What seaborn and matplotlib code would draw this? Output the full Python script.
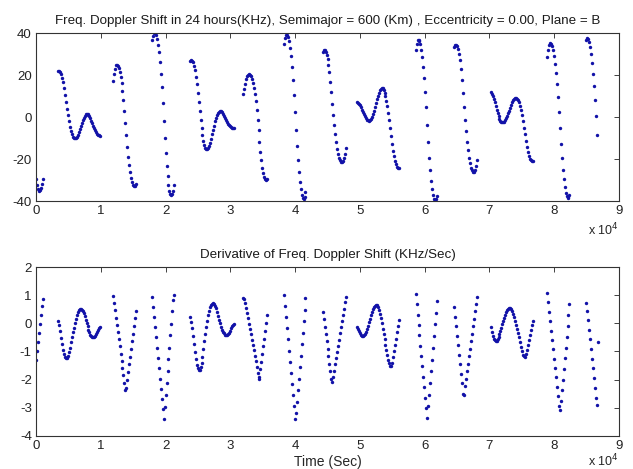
import numpy as np
import pandas as pd
import matplotlib
matplotlib.use("Agg")
import matplotlib.pyplot as plt
import seaborn as sns

# sample step (s) and first sample time of each visible pass
step = 150
pass_start = [0, 3450, 11850, 17900, 23750, 31950, 38300, 44250,
              49600, 58600, 64600, 70200, 78900, 84900]

# Doppler shift per pass (KHz)
doppler_passes = [
    [-29.5, -32.3, -34.2, -35.0, -34.8, -33.8, -32.0, -29.5],
    [22.0, 22.1, 21.6, 20.5, 18.8, 16.5, 13.7, 10.6, 7.3, 4.0, 0.8, -2.1, -4.7, -6.7, -8.3, -9.4, -10.1,
     -10.2, -10.0, -9.4, -8.5, -7.3, -5.9, -4.4, -2.9, -1.5, -0.3, 0.6, 1.2, 1.5, 1.5, 1.1, 0.4,
     -0.6, -1.8, -3.0, -4.2, -5.3, -6.3, -7.2, -7.9, -8.4, -8.8, -9.1],
    [17.3, 20.5, 23.0, 24.6, 25.0, 24.5, 23.4, 21.6, 19.2, 16.1, 12.4, 8.0, 3.0, -2.7, -8.7, -14.1,
     -18.9, -23.0, -26.3, -29.0, -31.0, -32.3, -32.9, -32.8, -32.0],
    [36.7, 38.7, 39.8, 39.9, 39.0, 37.2, 34.5, 30.8, 26.2, 20.7, 14.2, 6.7, -1.7, -10.0, -17.2, -23.3,
     -28.3, -32.2, -35.0, -36.6, -37.2, -36.7, -35.0, -32.6],
    [26.7, 27.0, 26.9, 26.0, 24.5, 22.2, 19.1, 15.5, 11.5, 7.2, 2.8, -1.4, -5.3, -8.7, -11.5, -13.5, -14.8,
     -15.4, -15.4, -14.8, -13.7, -12.2, -10.4, -8.3, -6.2, -4.1, -2.1, -0.4, 1.0, 2.0, 2.6, 2.9, 2.7,
     2.2, 1.5, 0.6, -0.4, -1.4, -2.3, -3.2, -3.9, -4.5, -4.9, -5.2, -5.35, -5.4],
    [10.8, 13.5, 15.9, 17.9, 19.3, 20.1, 20.4, 20.1, 19.3, 18.0, 16.1, 13.7, 10.8, 7.4, 3.4, -1.2, -6.4,
     -11.7, -16.6, -20.7, -24.1, -26.7, -28.6, -29.7, -30.1, -29.7],
    [34.6, 37.5, 38.9, 39.0, 38.0, 36.0, 33.0, 28.9, 23.9, 17.8, 10.7, 2.4, -6.2, -14.0, -20.7, -26.4,
     -31.0, -34.5, -37.0, -38.4, -38.9, -38.0, -35.5],
    [31.0, 31.8, 31.8, 31.1, 29.7, 27.6, 24.8, 21.2, 16.9, 11.9, 6.4, 0.9, -4.0, -8.3, -12.0, -15.1,
     -17.5, -19.4, -20.7, -21.4, -21.5, -20.8, -19.4, -17.4, -14.8],
    [7.3, 6.9, 6.3, 5.5, 4.6, 3.5, 2.4, 1.3, 0.3, -0.6, -1.2, -1.6, -1.7, -1.4, -0.8, 0.2, 1.5, 3.0, 4.7,
     6.5, 8.4, 10.1, 11.6, 12.8, 13.5, 13.8, 13.6, 12.8, 11.6, 9.9, 7.8, 5.1, 2.0, -1.4, -5.1, -9.0,
     -12.7, -16.0, -18.7, -21.0, -22.6, -23.7, -24.3, -24.2],
    [31.9, 34.8, 36.5, 36.9, 36.2, 34.6, 32.0, 28.5, 24.0, 18.5, 12.0, 4.6, -3.8, -12.1, -19.3, -25.4,
     -30.5, -34.4, -37.3, -39.0, -39.6, -39.2, -37.6],
    [33.4, 34.3, 34.5, 33.9, 32.5, 30.2, 27.0, 22.7, 17.6, 11.5, 5.0, -1.3, -6.8, -11.7, -15.8, -19.3,
     -22.0, -24.1, -25.4, -26.0, -26.0, -25.2, -23.2, -20.5],
    [11.7, 11.1, 10.0, 8.7, 7.0, 5.3, 3.5, 1.9, 0.4, -0.9, -1.8, -2.4, -2.6, -2.6, -2.2, -1.5, -0.6, 0.5,
     1.7, 3.1, 4.5, 5.8, 7.0, 8.0, 8.7, 9.1, 9.1, 8.8, 8.1, 7.0, 5.4, 3.3, 0.8, -2.0, -5.1, -8.3, -11.4,
     -14.2, -16.6, -18.4, -19.8, -20.7, -21.1, -21.1],
    [28.7, 32.0, 34.2, 35.1, 34.8, 33.7, 31.8, 29.0, 25.4, 20.9, 15.5, 9.3, 2.3, -5.4, -12.9, -19.4,
     -25.1, -29.7, -33.4, -36.0, -37.8, -38.5, -38.3, -37.0],
    [36.7, 37.4, 37.2, 35.8, 33.4, 30.0, 25.7, 20.6, 14.8, 8.3, 0.6, -8.6],
]

# derivative of the Doppler shift per pass (KHz/Sec)
rate_passes = [
    [-1.3, -0.98, -0.66, -0.34, -0.02, 0.3, 0.6, 0.88],
    [0.10, -0.05, -0.28, -0.52, -0.75, -0.95, -1.1, -1.2, -1.24, -1.23, -1.15, -1.02, -0.86, -0.68, -0.5,
     -0.32, -0.16, 0.0, 0.15, 0.28, 0.39, 0.46, 0.5, 0.51, 0.49, 0.43, 0.35, 0.25, 0.13, 0.01, -0.11,
     -0.22, -0.32, -0.4, -0.46, -0.49, -0.5, -0.49, -0.45, -0.38, -0.3, -0.22, -0.16, -0.12],
    [0.97, 0.72, 0.46, 0.2, -0.05, -0.31, -0.57, -0.82, -1.08, -1.34, -1.6, -1.85, -2.11, -2.35, -2.3,
     -2.0, -1.73, -1.46, -1.18, -0.91, -0.64, -0.37, -0.1, 0.18, 0.45],
    [0.95, 0.59, 0.22, -0.14, -0.5, -0.87, -1.23, -1.59, -1.96, -2.32, -2.68, -3.05, -3.41, -2.98, -2.56,
     -2.13, -1.71, -1.28, -0.86, -0.43, -0.01, 0.42, 0.84, 1.0],
    [0.21, 0.05, -0.18, -0.45, -0.74, -1.02, -1.28, -1.47, -1.6, -1.66, -1.65, -1.56, -1.4, -1.18, -0.92,
     -0.64, -0.37, -0.12, 0.1, 0.29, 0.45, 0.57, 0.65, 0.7, 0.71, 0.69, 0.63, 0.53, 0.41, 0.27, 0.13,
     0.0, -0.12, -0.22, -0.3, -0.36, -0.4, -0.41, -0.41, -0.38, -0.33, -0.26, -0.18, -0.1, -0.05, -0.02],
    [0.91, 0.85, 0.72, 0.55, 0.37, 0.18, -0.01, -0.2, -0.39, -0.58, -0.77, -0.96, -1.15, -1.35, -1.56,
     -1.78, -1.98, -1.9, -1.63, -1.36, -1.09, -0.82, -0.55, -0.28, 0.0, 0.3],
    [1.0, 0.61, 0.21, -0.18, -0.57, -0.97, -1.36, -1.75, -2.14, -2.54, -2.93, -3.4, -3.2, -2.79, -2.38,
     -1.97, -1.56, -1.16, -0.75, -0.34, 0.07, 0.48, 0.89],
    [0.41, 0.15, -0.12, -0.38, -0.64, -0.91, -1.17, -1.43, -1.7, -1.96, -2.1, -1.9, -1.68, -1.46, -1.24,
     -1.02, -0.8, -0.58, -0.36, -0.14, 0.08, 0.3, 0.52, 0.74, 0.93],
    [-0.12, -0.2, -0.28, -0.35, -0.41, -0.44, -0.45, -0.43, -0.38, -0.3, -0.2, -0.09, 0.03, 0.16, 0.28,
     0.4, 0.5, 0.58, 0.63, 0.65, 0.64, 0.58, 0.48, 0.34, 0.18, 0.0, -0.19, -0.38, -0.57, -0.76, -0.95,
     -1.13, -1.29, -1.42, -1.5, -1.51, -1.4, -1.2, -0.98, -0.76, -0.54, -0.32, -0.1, 0.12],
    [1.04, 0.67, 0.31, -0.06, -0.43, -0.8, -1.17, -1.53, -1.9, -2.27, -2.64, -3.0, -3.37, -2.95, -2.54,
     -2.12, -1.7, -1.29, -0.87, -0.45, -0.04, 0.38, 0.8],
    [0.57, 0.23, -0.1, -0.44, -0.78, -1.11, -1.45, -1.79, -2.12, -2.5, -2.55, -2.24, -1.97, -1.7, -1.44,
     -1.17, -0.91, -0.64, -0.37, -0.11, 0.16, 0.43, 0.69, 0.95],
    [-0.14, -0.3, -0.44, -0.54, -0.6, -0.63, -0.62, -0.57, -0.49, -0.39, -0.27, -0.15, -0.03, 0.09, 0.2,
     0.3, 0.39, 0.46, 0.5, 0.53, 0.53, 0.5, 0.43, 0.33, 0.21, 0.08, -0.05, -0.19, -0.33, -0.5, -0.67,
     -0.84, -0.99, -1.11, -1.17, -1.18, -1.1, -0.95, -0.78, -0.6, -0.42, -0.24, -0.07, 0.08],
    [1.07, 0.74, 0.41, 0.07, -0.26, -0.59, -0.92, -1.26, -1.59, -1.92, -2.25, -2.59, -2.92, -3.08, -2.76,
     -2.38, -2.0, -1.62, -1.24, -0.86, -0.48, -0.1, 0.29, 0.67],
    [0.73, 0.45, 0.12, -0.22, -0.56, -0.9, -1.25, -1.6, -1.95, -2.3, -2.65, -2.9, -0.65],
]

x_ticks = [0, 10000, 20000, 30000, 40000, 50000, 60000, 70000, 80000, 90000]
x_ticklabels = ['0', '1', '2', '3', '4', '5', '6', '7', '8', '9']
top_yticks = [-40, -20, 0, 20, 40]
bottom_yticks = [-4, -3, -2, -1, 0, 1, 2]

top_title = 'Freq. Doppler Shift in 24 hours(KHz), Semimajor = 600 (Km) , Eccentricity = 0.00, Plane = B'
bottom_title = 'Derivative of Freq. Doppler Shift (KHz/Sec)'


def to_frame(passes, name):
    rows = []
    for start, vals in zip(pass_start, passes):
        for i, v in enumerate(vals):
            rows.append([start + step * i, v])
    return pd.DataFrame(rows, columns=['time', name])


df_top = to_frame(doppler_passes, 'doppler')
df_bot = to_frame(rate_passes, 'rate')

sns.set_theme(style='white')
plt.rcParams['font.family'] = ['Liberation Sans', 'DejaVu Sans']
plt.rcParams['axes.unicode_minus'] = False

fig = plt.figure(figsize=(6.33, 4.69), dpi=100)
ax1 = fig.add_axes([0.0569, 0.5714, 0.921, 0.3582])
ax2 = fig.add_axes([0.0569, 0.0704, 0.921, 0.3603])

dot_color = '#1212a8'
sns.scatterplot(ax=ax1, x='time', y='doppler', data=df_top, s=6, color=dot_color,
                linewidth=0, legend=False)
sns.scatterplot(ax=ax2, x='time', y='rate', data=df_bot, s=6, color=dot_color,
                linewidth=0, legend=False)

ax1.set_ylim(-40, 40)
ax1.set_yticks(top_yticks)
ax2.set_ylim(-4, 2)
ax2.set_yticks(bottom_yticks)

for ax, title in [(ax1, top_title), (ax2, bottom_title)]:
    ax.set_xlim(0, 90000)
    ax.set_xticks(x_ticks)
    ax.set_xticklabels(x_ticklabels)
    ax.set_title(title, fontsize=9.6, pad=6.5, color='#1a1a1a')
    ax.set_xlabel('')
    ax.set_ylabel('')
    ax.tick_params(direction='in', top=True, right=True, length=3.5, width=0.6,
                   labelsize=9.5, pad=3, colors='#222222')
    for sp in ax.spines.values():
        sp.set_color('#333333')
        sp.set_linewidth(0.8)

ax1.text(1.0, -0.17, r'x 10$^4$', transform=ax1.transAxes, ha='right', va='center', fontsize=9)
ax2.text(1.0, -0.15, r'x 10$^4$', transform=ax2.transAxes, ha='right', va='center', fontsize=9)
ax2.set_xlabel('Time (Sec)', fontsize=10, labelpad=2)

fig.savefig('out.png', dpi=100, facecolor='#FFFFFF')
